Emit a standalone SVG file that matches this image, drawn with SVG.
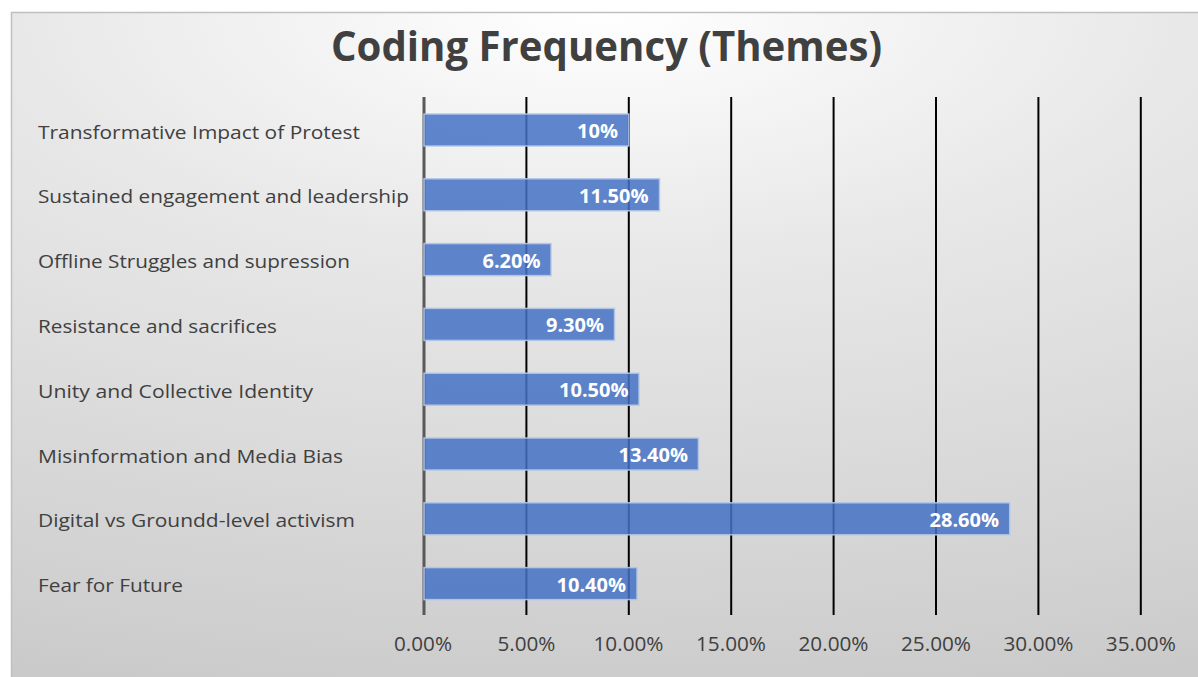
<svg xmlns="http://www.w3.org/2000/svg" width="1198" height="677" viewBox="0 0 1198 677">
  <defs>
    <radialGradient id="bg" gradientUnits="userSpaceOnUse" cx="600" cy="10" r="700" gradientTransform="translate(600 10) scale(2.4 1) translate(-600 -10)">
      <stop offset="0" stop-color="#ffffff"/>
      <stop offset="0.35" stop-color="#e8e8e8"/>
      <stop offset="0.93" stop-color="#cecece"/>
      <stop offset="1" stop-color="#cacaca"/>
    </radialGradient>
    <style>
      .title{font-family:"Open Sans","Liberation Sans",sans-serif;font-weight:bold;font-size:41px;fill:#404040}
      .cat{font-family:"Open Sans","Liberation Sans",sans-serif;font-size:19px;fill:#404040}
      .ax{font-family:"Open Sans","Liberation Sans",sans-serif;font-size:19.5px;fill:#404040;text-anchor:middle}
      .val{font-family:"Open Sans","Liberation Sans",sans-serif;font-weight:bold;font-size:20px;fill:#ffffff;text-anchor:end}
      .grid{stroke:#000000;stroke-width:2}
      .zero{stroke:#595959;stroke-width:3}
      .bar{fill:#4472c4;fill-opacity:0.85;stroke:#b4c7e7;stroke-opacity:0.9;stroke-width:1.5}
    </style>
  </defs>
  <rect x="0" y="0" width="1198" height="677" fill="#ffffff"/>
  <rect x="11.5" y="12.5" width="1200" height="680" fill="url(#bg)" stroke="#bfbfbf" stroke-width="1.5"/>

  <text class="title" x="606.5" y="61" text-anchor="middle" textLength="551" lengthAdjust="spacingAndGlyphs">Coding Frequency (Themes)</text>

  <g id="gridlines">
    <line class="grid" x1="526.4" y1="97" x2="526.4" y2="615"/>
    <line class="grid" x1="628.8" y1="97" x2="628.8" y2="615"/>
    <line class="grid" x1="731.2" y1="97" x2="731.2" y2="615"/>
    <line class="grid" x1="833.6" y1="97" x2="833.6" y2="615"/>
    <line class="grid" x1="936" y1="97" x2="936" y2="615"/>
    <line class="grid" x1="1038.4" y1="97" x2="1038.4" y2="615"/>
    <line class="grid" x1="1140.8" y1="97" x2="1140.8" y2="615"/>
    <line class="zero" x1="424" y1="97" x2="424" y2="615"/>
  </g>

  <g id="axis-labels">
    <text class="ax" x="423" y="651" textLength="58" lengthAdjust="spacingAndGlyphs">0.00%</text>
    <text class="ax" x="526.4" y="651" textLength="58" lengthAdjust="spacingAndGlyphs">5.00%</text>
    <text class="ax" x="628.5" y="651" textLength="70" lengthAdjust="spacingAndGlyphs">10.00%</text>
    <text class="ax" x="731" y="651" textLength="70" lengthAdjust="spacingAndGlyphs">15.00%</text>
    <text class="ax" x="833.5" y="651" textLength="70" lengthAdjust="spacingAndGlyphs">20.00%</text>
    <text class="ax" x="936" y="651" textLength="70" lengthAdjust="spacingAndGlyphs">25.00%</text>
    <text class="ax" x="1038.5" y="651" textLength="70" lengthAdjust="spacingAndGlyphs">30.00%</text>
    <text class="ax" x="1140.8" y="651" textLength="70" lengthAdjust="spacingAndGlyphs">35.00%</text>
  </g>

  <g id="bar-transformative">
    <text class="cat" x="38" y="138.5" textLength="322" lengthAdjust="spacingAndGlyphs">Transformative Impact of Protest</text>
    <rect class="bar" x="424" y="114" width="204.8" height="32"/>
    <text class="val" x="618" y="138">10%</text>
  </g>
  <g id="bar-sustained">
    <text class="cat" x="38" y="203.3" textLength="371" lengthAdjust="spacingAndGlyphs">Sustained engagement and leadership</text>
    <rect class="bar" x="424" y="178.8" width="235.5" height="32"/>
    <text class="val" x="648.5" y="202.8">11.50%</text>
  </g>
  <g id="bar-offline">
    <text class="cat" x="38" y="268.1" textLength="312" lengthAdjust="spacingAndGlyphs">Offline Struggles and supression</text>
    <rect class="bar" x="424" y="243.6" width="127" height="32"/>
    <text class="val" x="540.5" y="267.6">6.20%</text>
  </g>
  <g id="bar-resistance">
    <text class="cat" x="38" y="332.9" textLength="239" lengthAdjust="spacingAndGlyphs">Resistance and sacrifices</text>
    <rect class="bar" x="424" y="308.4" width="190.5" height="32"/>
    <text class="val" x="604" y="332.4">9.30%</text>
  </g>
  <g id="bar-unity">
    <text class="cat" x="38" y="397.7" textLength="275" lengthAdjust="spacingAndGlyphs">Unity and Collective Identity</text>
    <rect class="bar" x="424" y="373.2" width="215" height="32"/>
    <text class="val" x="628.5" y="397.2">10.50%</text>
  </g>
  <g id="bar-misinformation">
    <text class="cat" x="38" y="462.5" textLength="305" lengthAdjust="spacingAndGlyphs">Misinformation and Media Bias</text>
    <rect class="bar" x="424" y="438" width="274.4" height="32"/>
    <text class="val" x="688" y="462">13.40%</text>
  </g>
  <g id="bar-digital">
    <text class="cat" x="38" y="527.3" textLength="317" lengthAdjust="spacingAndGlyphs">Digital vs Groundd-level activism</text>
    <rect class="bar" x="424" y="502.8" width="585.7" height="32"/>
    <text class="val" x="999" y="526.8">28.60%</text>
  </g>
  <g id="bar-fear">
    <text class="cat" x="38" y="592.1" textLength="145" lengthAdjust="spacingAndGlyphs">Fear for Future</text>
    <rect class="bar" x="424" y="567.6" width="213" height="32"/>
    <text class="val" x="626" y="591.6">10.40%</text>
  </g>
</svg>
